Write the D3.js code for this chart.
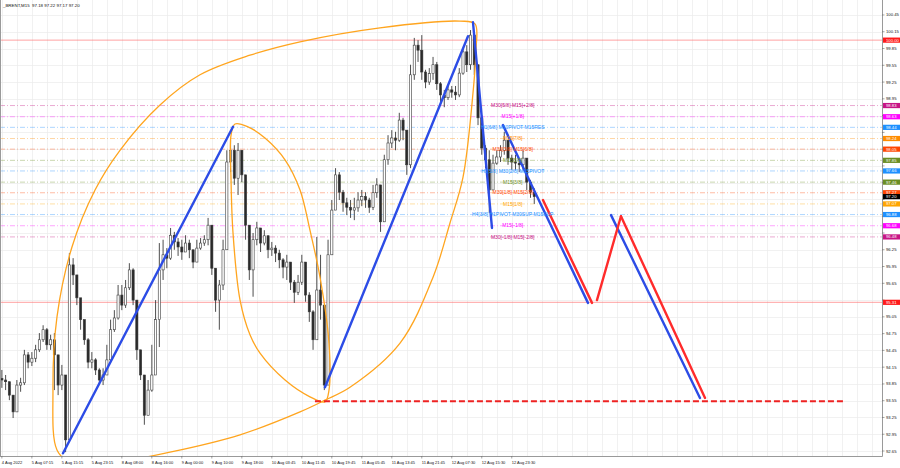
<!DOCTYPE html>
<html><head><meta charset="utf-8">
<script src="https://cdn.jsdelivr.net/npm/d3@7"></script>
<style>html,body{margin:0;padding:0;background:#fff;} svg{display:block;font-family:"Liberation Sans",Arial,sans-serif;}</style>
</head><body><svg id="c" width="900" height="468"></svg>
<script>
const titleText = "_BRENT,M15  97.18 97.22 97.17 97.20";
// H1 aggregated samples of the M15 chart (one sample every 4 M15 bars)
const barStep = 4;
const firstOpen = 93.95;
const closes = [93.92,93.89,93.65,93.35,93.83,93.87,94.37,94.24,94.31,94.46,94.64,94.82,94.55,94.64,94.37,93.83,94.01,92.85,95.98,95.80,
95.39,95.00,94.64,94.24,94.28,94.10,93.92,94.01,94.28,94.82,95.03,95.44,95.26,95.57,95.89,95.35,94.46,94.01,93.29,93.74,
94.01,95.00,95.89,96.16,96.10,96.51,96.39,96.30,96.21,96.37,96.25,96.03,96.28,96.37,96.43,96.69,95.92,95.35,95.62,96.25,
97.82,98.03,97.53,98.03,97.59,96.69,95.89,96.43,96.64,96.37,96.50,96.25,96.28,96.19,96.07,95.94,96.03,95.67,95.49,95.67,
96.03,95.44,95.14,94.64,95.53,95.26,93.83,96.16,96.96,97.59,97.28,97.09,97.01,96.96,97.00,97.14,97.20,97.14,97.01,97.27,
97.41,96.75,97.86,98.16,98.25,98.21,98.57,98.39,97.77,99.38,99.91,99.82,99.43,99.25,99.40,99.56,99.22,99.02,98.97,99.11,
99.07,99.02,99.41,99.79,99.56,100.09,99.56,98.61,98.07,97.86,97.32,97.80,97.91,98.03,98.21,97.89,97.82,97.80,97.77,97.89,
97.46,97.28,97.20];
const highs = [94.10,94.01,93.83,93.56,93.92,93.96,94.46,94.42,94.42,94.55,94.76,94.90,94.85,94.73,94.76,94.10,94.19,94.01,96.19,96.10,
95.71,95.35,94.90,94.67,94.42,94.31,94.13,94.13,94.55,95.00,95.17,95.62,95.62,95.71,96.01,95.92,95.35,94.46,93.92,93.92,
94.55,95.35,96.37,96.43,96.28,96.64,96.57,96.46,96.43,96.51,96.43,96.25,96.43,96.46,96.51,96.82,96.60,95.89,95.71,96.43,
98.03,98.21,98.12,98.16,98.03,97.59,96.69,96.55,96.75,96.64,96.60,96.51,96.39,96.33,96.25,96.10,96.16,96.03,95.71,95.80,
96.16,95.98,95.49,95.17,96.48,96.16,94.82,96.43,97.14,97.71,97.64,97.32,97.18,97.14,97.18,97.28,97.32,97.28,97.18,97.41,
97.53,97.41,97.95,98.30,98.39,98.36,98.70,98.61,98.39,99.56,100.04,100.00,100.09,99.47,99.50,99.70,99.61,99.25,99.11,99.20,
99.18,99.18,99.50,99.86,99.91,100.18,100.09,99.56,98.66,98.12,98.03,97.95,98.03,98.12,98.36,98.21,97.95,97.95,97.89,98.03,
97.89,97.50,97.35];
const lows = [93.78,93.74,93.56,93.24,93.38,93.71,93.83,94.13,94.17,94.24,94.42,94.60,94.46,94.46,93.74,93.65,93.74,92.63,92.85,95.62,
95.26,94.82,94.55,94.13,94.13,94.01,93.83,93.83,94.06,94.24,94.78,95.00,95.17,95.21,95.53,95.26,94.28,93.92,93.12,93.29,
93.71,94.55,94.51,95.71,95.92,96.07,96.25,96.14,96.07,96.25,96.10,95.92,96.03,96.25,96.32,96.33,95.80,95.14,94.82,95.53,
96.25,97.64,97.41,97.23,97.46,96.43,95.71,95.41,96.33,96.21,96.33,96.10,96.14,96.03,95.92,95.74,95.71,95.53,95.30,95.44,
95.62,95.32,94.96,94.46,94.64,95.00,93.74,93.83,96.25,96.96,97.14,96.93,96.87,96.82,96.78,96.93,97.03,97.00,96.91,96.96,
97.18,96.57,96.75,97.77,98.07,98.03,98.18,98.21,97.59,97.71,99.29,99.61,99.29,99.14,99.20,99.29,99.11,98.86,98.80,98.93,
98.97,98.93,98.98,99.38,99.43,99.47,99.38,98.48,97.95,97.71,96.91,97.41,97.77,97.82,97.95,97.77,97.68,97.68,97.64,97.68,
97.32,97.18,97.07];

const timeLabels = ["4 Aug 2022","5 Aug 07:15","5 Aug 15:15","5 Aug 23:15","8 Aug 08:00","8 Aug 16:00","9 Aug 00:00","9 Aug 10:00","9 Aug 18:00","10 Aug 03:45","10 Aug 11:45","10 Aug 19:45","11 Aug 05:45","11 Aug 13:45","11 Aug 21:45","12 Aug 07:30","12 Aug 15:30","12 Aug 23:30"];
const barsPerTimeLabel = 32;
const priceTicks = [92.65,92.95,93.25,93.55,93.85,94.15,94.45,94.75,95.05,95.35,95.65,95.95,96.25,96.55,96.85,97.15,97.45,97.75,98.05,98.35,98.65,98.95,99.25,99.55,99.85,100.15,100.45];

const levelPrices = [98.83,98.63,98.44,98.24,98.05,97.85,97.66,97.46,97.27,97.07,96.88,96.68,96.48];
const levelTexts = ["M30[5/8] M15[+2/8]","M15[+1/8]","H1[6/8] M30PIVOT M15RES","M15[7/8]","M30[3/8] M15[6/8]","M15[5/8]","H1[5/8] M30[2/8] M15PIVOT","M15[3/8]","M30[1/8] M15[2/8]","M15[1/8]","H4[3/8] H1PIVOT M30SUP M15SUP","M15[-1/8]","M30[-1/8] M15[-2/8]"];
const levelColors = ["#c71585","#ff00ff","#1e90ff","#ff8c00","#ff4500","#6b8e23","#1e90ff","#6b8e23","#ff4500","#ffa500","#1e90ff","#ff00ff","#c71585"];
const redLevels = [100.00, 95.31];
const currentPrice = 97.20;
const levelTextBar = 545;

// trend lines: [barIndex, price]
const blueLines = [
  [[65.2,92.61],[246.6,98.45]],
  [[344.7,93.79],[497.3,100.07]],
  [[502.6,100.32],[522.9,96.64]],
  [[534.6,98.48],[625.3,95.30]],
  [[649.9,96.87],[744.8,93.60]]
];
const redLines = [
  [[577.3,97.14],[629.6,95.30]],
  [[634.9,95.35],[660.5,96.85]],
  [[660.5,96.85],[750.2,93.60]]
];
const redDashed = [[334,93.54],[899.5,93.54]];

const bigEllipse = [[58.8,92.67],[54.5,93.74],[58.8,95.05],[74.8,96.30],[99.4,97.32],[126.0,98.03],[168.7,98.84],[211.4,99.38],[264.7,99.73],[318.1,99.97],[403.4,100.22],[488.8,100.34],[504.8,100.29],[505.8,99.82],[502.6,99.05],[492.0,97.55],[478.1,96.73],[460.0,95.76],[424.8,94.58],[371.4,93.79],[344.7,93.56],[318.1,93.35],[254.1,92.94],[179.4,92.63],[115.4,92.44],[72.7,92.45]];
const smallEllipse = [[248.7,98.50],[244.5,98.30],[244.5,97.50],[246.6,96.55],[254.1,95.35],[264.7,94.73],[275.4,94.40],[302.1,93.92],[328.7,93.62],[344.7,93.53],[349.0,93.74],[349.0,94.58],[339.4,95.76],[328.7,96.60],[318.1,97.32],[302.1,97.86],[280.7,98.25],[262.6,98.45]];

// ---------- drawing ----------
const W = 900, H = 468, plotR = 882, plotB = 456;
const svg = d3.select("#c");
const x = d3.scaleLinear().domain([-2, 939]).range([0, plotR]);
const y = d3.scaleLinear().domain([92.561, 100.718]).range([plotB, 0]);

svg.append("defs").append("clipPath").attr("id","clip")
  .append("rect").attr("x",0).attr("y",0).attr("width",plotR).attr("height",plotB);

const plot = svg.append("g").attr("clip-path","url(#clip)");

// grid
const vg = d3.range(0, 939, 16);
plot.append("g").selectAll("line").data(vg).join("line")
  .attr("x1",d=>Math.round(x(d))+0.5).attr("x2",d=>Math.round(x(d))+0.5)
  .attr("y1",0).attr("y2",plotB).attr("stroke","#ebebeb").attr("stroke-width",0.7);
plot.append("g").selectAll("line").data(priceTicks).join("line")
  .attr("x1",0).attr("x2",plotR)
  .attr("y1",d=>Math.round(y(d))+0.5).attr("y2",d=>Math.round(y(d))+0.5)
  .attr("stroke","#ebebeb").attr("stroke-width",0.7);

// level lines
plot.append("g").selectAll("line").data(levelPrices).join("line")
  .attr("x1",0).attr("x2",plotR)
  .attr("y1",d=>y(d)).attr("y2",d=>y(d))
  .attr("stroke",(d,i)=>levelColors[i]).attr("stroke-opacity",0.45)
  .attr("stroke-width",0.8).attr("stroke-dasharray","5,2,1,2");
plot.append("g").selectAll("line").data(redLevels).join("line")
  .attr("x1",0).attr("x2",plotR)
  .attr("y1",d=>y(d)).attr("y2",d=>y(d))
  .attr("stroke","#ff6b6b").attr("stroke-opacity",0.7).attr("stroke-width",0.9);

// candles
const bars = closes.map((c,k)=>{
  const o = k ? closes[k-1] : firstOpen;
  return {i:k*barStep, o, c, h:Math.max(highs[k],o,c), l:Math.min(lows[k],o,c)};
});
const cg = plot.append("g");
cg.selectAll("line").data(bars).join("line")
  .attr("x1",d=>x(d.i)).attr("x2",d=>x(d.i))
  .attr("y1",d=>y(d.h)).attr("y2",d=>y(d.l))
  .attr("stroke","#3a3a3a").attr("stroke-width",0.9);
cg.selectAll("rect").data(bars).join("rect")
  .attr("x",d=>x(d.i)-1.1).attr("width",2.2)
  .attr("y",d=>y(Math.max(d.o,d.c)))
  .attr("height",d=>Math.max(0.8, Math.abs(y(d.o)-y(d.c))))
  .attr("fill",d=>d.c>=d.o?"#ffffff":"#2a2a2a")
  .attr("stroke","#3a3a3a").attr("stroke-width",0.6);

// ellipses
const closedLine = d3.line().x(d=>x(d[0])).y(d=>y(d[1])).curve(d3.curveCatmullRomClosed.alpha(0.5));
[bigEllipse, smallEllipse].forEach(pts=>{
  plot.append("path").attr("d",closedLine(pts)).attr("fill","none")
    .attr("stroke","#ffa51f").attr("stroke-width",1.3);
});

// red dashed horizontal
plot.append("line")
  .attr("x1",x(redDashed[0][0])).attr("x2",x(redDashed[1][0]))
  .attr("y1",y(redDashed[0][1])).attr("y2",y(redDashed[1][1]))
  .attr("stroke","#ee2222").attr("stroke-width",1.8).attr("stroke-dasharray","6,3");

// trend lines
const seg = d3.line().x(d=>x(d[0])).y(d=>y(d[1]));
blueLines.forEach(s=>plot.append("path").attr("d",seg(s)).attr("fill","none")
  .attr("stroke","#2c4ce6").attr("stroke-width",2.4).attr("stroke-linecap","round"));
redLines.forEach(s=>plot.append("path").attr("d",seg(s)).attr("fill","none")
  .attr("stroke","#ff2b2b").attr("stroke-width",2.4).attr("stroke-linecap","round"));

// level texts
plot.append("g").selectAll("text").data(levelPrices).join("text")
  .attr("x",x(levelTextBar)).attr("y",d=>y(d)+1.7)
  .attr("text-anchor","middle").attr("font-size",5)
  .attr("fill",(d,i)=>levelColors[i]).text((d,i)=>levelTexts[i]);

// frame
svg.append("line").attr("x1",plotR+0.5).attr("x2",plotR+0.5).attr("y1",0).attr("y2",plotB+0.5).attr("stroke","#9a9a9a").attr("stroke-width",1);
svg.append("line").attr("x1",0).attr("x2",plotR+0.5).attr("y1",plotB+0.5).attr("y2",plotB+0.5).attr("stroke","#9a9a9a").attr("stroke-width",1);
svg.append("line").attr("x1",0.5).attr("x2",0.5).attr("y1",0).attr("y2",plotB).attr("stroke","#9a9a9a").attr("stroke-width",1);

// boxed labels data
const boxes = levelPrices.map((p,i)=>({p, col:levelColors[i]}))
  .concat(redLevels.map(p=>({p, col:"#ff1a1a"})))
  .concat([{p:currentPrice, col:"#000000"}]);

// right axis (tick labels hidden where a boxed label sits, as the terminal does)
const freeTicks = priceTicks.filter(t=>boxes.every(b=>Math.abs(y(b.p)-y(t))>5.6));
const ra = svg.append("g");
ra.selectAll("line").data(priceTicks).join("line")
  .attr("x1",plotR).attr("x2",plotR+2.5).attr("y1",d=>y(d)).attr("y2",d=>y(d))
  .attr("stroke","#666").attr("stroke-width",0.6);
ra.selectAll("text").data(freeTicks).join("text")
  .attr("x",plotR+4).attr("y",d=>y(d)+1.5).attr("font-size",4.2).attr("fill","#111")
  .text(d=>d.toFixed(2));

const bg = svg.append("g").selectAll("g").data(boxes).join("g");
bg.append("rect").attr("x",plotR+1).attr("width",17).attr("y",d=>y(d.p)-2.6).attr("height",5.2).attr("fill",d=>d.col);
bg.append("text").attr("x",plotR+4).attr("y",d=>y(d.p)+1.5).attr("font-size",4.2).attr("fill","#fff").text(d=>d.p.toFixed(2));

// time axis
const ta = svg.append("g");
ta.selectAll("line").data(timeLabels).join("line")
  .attr("x1",(d,i)=>x(i*barsPerTimeLabel)).attr("x2",(d,i)=>x(i*barsPerTimeLabel))
  .attr("y1",plotB).attr("y2",plotB+2.5).attr("stroke","#666").attr("stroke-width",0.6);
ta.selectAll("text").data(timeLabels).join("text")
  .attr("x",(d,i)=>x(i*barsPerTimeLabel)).attr("y",plotB+7.5)
  .attr("font-size",4.0).attr("fill","#111").text(d=>d);

// title
svg.append("text").attr("x",3).attr("y",6.5).attr("font-size",4.4).attr("fill","#111")
  .attr("xml:space","preserve").text(titleText);
</script></body></html>
